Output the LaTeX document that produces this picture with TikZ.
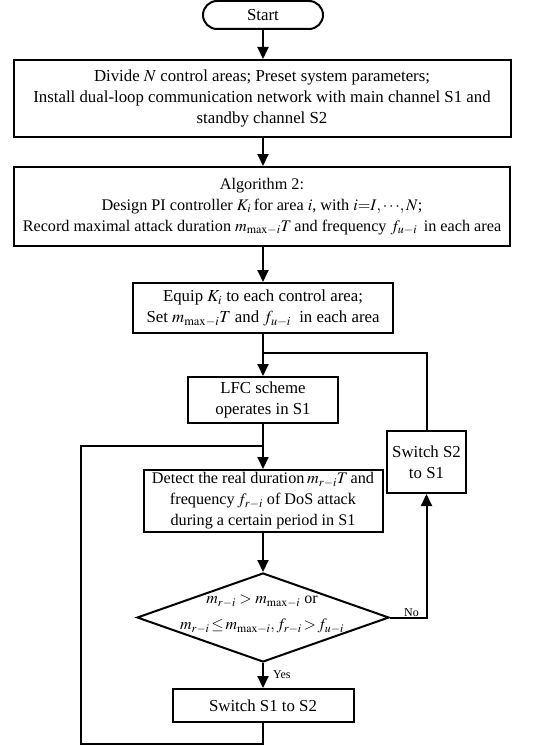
\documentclass[tikz,border=0pt]{standalone}
\usepackage{mathptmx}
\usepackage{fontspec}
\setmainfont{Liberation Serif}
\usetikzlibrary{arrows.meta,shapes.geometric}
\tikzset{
  x=1pt,y=1pt,
  box/.style={draw,line width=2pt,rectangle,inner sep=0pt,align=center,font=\fontsize{16.8}{21}\selectfont},
  tight/.style={font=\fontsize{16.2}{21}\selectfont},
  conn/.style={line width=2pt},
  arr/.style={line width=2pt,-{Triangle[length=12pt,width=11pt]}},
  lbl/.style={font=\fontsize{12}{13}\selectfont,inner sep=1pt}
}
\begin{document}
\begin{tikzpicture}
\useasboundingbox (0,0) rectangle (536,-749);
\node[box,rounded corners=14pt,minimum width=120pt,minimum height=28pt] (start) at (263,-15) {Start};
\node[box,minimum width=497pt,minimum height=77pt] (b1) at (262,-98.5) {Divide $N$ control areas; Preset system parameters;\\Install dual-loop communication network with main channel S1 and\\standby channel S2};
\node[box,tight,minimum width=496pt,minimum height=79pt] (b2) at (262,-206.5) {Algorithm 2:\\Design PI controller $K_i$\,for area $i$, with $i{=}I,\cdots\!,N$;\\Record maximal attack duration $m_{\max\!-i}T$\,and frequency $f_{u-i}$\, in each area};
\node[box,minimum width=260pt,minimum height=50pt] (b3) at (263,-308) {Equip $K_i$ to each control area;\\Set $m_{\max\!-i}T$ and $f_{u-i}$\ \ in each area};
\node[box,minimum width=150pt,minimum height=46pt] (b4) at (263,-400) {LFC scheme\\operates in S1};
\node[box,tight,minimum width=239pt,minimum height=62pt] (b5) at (263,-501) {Detect the real duration\,$m_{r-i}T$\,and\\frequency\,$f_{r-i}$ of DoS attack\\during a certain period in S1};
\node[box,minimum width=79pt,minimum height=62pt] (sw2) at (426.5,-462) {Switch S2\\to S1};
\node[draw,line width=2pt,diamond,inner sep=0pt,minimum width=252pt,minimum height=89pt] (dec) at (263,-617.5) {};
\node[align=center,font=\fontsize{16}{26}\selectfont] (dect) at (262,-614) {$m_{r-i}>m_{\max\!-i}$ or\\$m_{r-i}\!\le\! m_{\max\!-i}, f_{r-i}\!>\!f_{u-i}$};
\node[box,minimum width=181pt,minimum height=33pt] (sw1) at (263,-705.5) {Switch S1 to S2};
\coordinate (j1) at (263,-353);
\coordinate (j2) at (263,-446);
\coordinate (c1) at (263,-744);
\coordinate (c2) at (81,-744);
\coordinate (c3) at (81,-446);
\draw[arr] (start.south) -- (b1.north -| start.south);
\draw[arr] (b1.south -| start.south) -- (b2.north -| start.south);
\draw[arr] (b2.south -| start.south) -- (b3.north);
\draw[arr] (b3.south) -- (b4.north);
\draw[conn] (sw2.north) |- (j1);
\draw[arr] (b4.south) -- (b5.north);
\draw[arr] (b5.south) -- (dec.north);
\draw[arr] (dec.east) -| (sw2.south);
\draw[arr] (dec.south) -- (sw1.north);
\draw[conn] (sw1.south) -- (c1) -- (c2) -- (c3) -- (j2);
\node[lbl,anchor=south west] (no) at (403,-618) {No};
\node[lbl,anchor=west] (yes) at (272,-675) {Yes};
\end{tikzpicture}
\end{document}
